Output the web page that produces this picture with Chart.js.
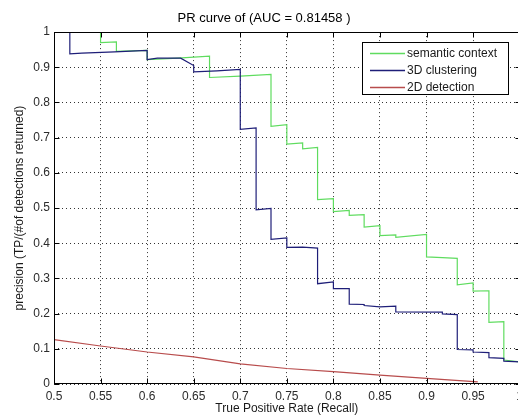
<!DOCTYPE html>
<html>
<head>
<meta charset="utf-8">
<script src="https://cdn.jsdelivr.net/npm/chart.js@4.4.0/dist/chart.umd.min.js"></script>
<style>
html, body { margin: 0; padding: 0; overflow: hidden; background: #fff; }
#wrap { position: absolute; left: 0; top: 0; width: 528px; height: 416px; }
</style>
</head>
<body>
<div id="wrap"><canvas id="pr" width="528" height="416"></canvas></div>
<script>
const xTicks = [0.5, 0.55, 0.6, 0.65, 0.7, 0.75, 0.8, 0.85, 0.9, 0.95, 1];
const yTicks = [0, 0.1, 0.2, 0.3, 0.4, 0.5, 0.6, 0.7, 0.8, 0.9, 1];

const seriesNames = ['semantic context', '3D clustering', '2D detection'];
const seriesColors = ['#5fdc5f', '#1e1e78', '#b84c4c'];

const semanticRecall = [0.55, 0.55, 0.567, 0.567, 0.6, 0.6, 0.633, 0.667, 0.667, 0.7, 0.733, 0.733, 0.75, 0.75,
    0.767, 0.767, 0.783, 0.783, 0.8, 0.8, 0.817, 0.817, 0.833, 0.833, 0.85, 0.85, 0.867, 0.867, 0.9, 0.9,
    0.917, 0.933, 0.933, 0.95, 0.95, 0.967, 0.967, 0.983, 0.983, 1.0];
const semanticPrecision = [1.0, 0.970, 0.972, 0.945, 0.948, 0.922, 0.926, 0.932, 0.871, 0.875, 0.880, 0.732, 0.737, 0.682,
    0.685, 0.668, 0.672, 0.524, 0.527, 0.490, 0.493, 0.479, 0.481, 0.446, 0.450, 0.422, 0.424, 0.417, 0.425, 0.361,
    0.359, 0.357, 0.282, 0.287, 0.264, 0.265, 0.175, 0.177, 0.068, 0.063];

const clusteringRecall = [0.517, 0.517, 0.53, 0.565, 0.6, 0.6, 0.611, 0.636, 0.65, 0.65, 0.675, 0.7, 0.7, 0.717,
    0.717, 0.733, 0.733, 0.75, 0.75, 0.767, 0.783, 0.783, 0.8, 0.8, 0.817, 0.817, 0.833, 0.833, 0.85, 0.867,
    0.867, 0.917, 0.917, 0.933, 0.933, 0.95, 0.95, 0.967, 0.967, 0.983, 0.983, 1.0];
const clusteringPrecision = [1.0, 0.938, 0.940, 0.944, 0.948, 0.922, 0.926, 0.926, 0.905, 0.887, 0.890, 0.894, 0.724, 0.728,
    0.495, 0.499, 0.411, 0.415, 0.388, 0.389, 0.386, 0.285, 0.290, 0.271, 0.271, 0.227, 0.226, 0.223, 0.219, 0.221,
    0.205, 0.204, 0.199, 0.197, 0.098, 0.097, 0.091, 0.089, 0.075, 0.073, 0.065, 0.063];

const detectionRecall = [0.5, 0.55, 0.6, 0.65, 0.7, 0.75, 0.8, 0.85, 0.9, 0.955];
const detectionPrecision = [0.126, 0.108, 0.091, 0.077, 0.057, 0.044, 0.035, 0.025, 0.016, 0.006];

const toPoints = (xs, ys) => xs.map((x, i) => ({x: x, y: ys[i]}));

Chart.defaults.font.family = '"Liberation Sans", Arial, sans-serif';
Chart.defaults.font.size = 12;
Chart.defaults.color = '#2b2b2b';

// MATLAB style box, inward ticks and legend inside the axes
const matlabAxes = {
    id: 'matlabAxes',
    afterDraw(chart) {
        const {ctx, chartArea, scales} = chart;
        const l = Math.round(chartArea.left) + 0.5;
        const r = Math.round(chartArea.right) + 0.5;
        const t = Math.round(chartArea.top) + 0.5;
        const b = Math.round(chartArea.bottom) - 0.5;
        ctx.save();
        ctx.setLineDash([]);
        ctx.strokeStyle = '#000';
        ctx.lineWidth = 1;
        ctx.strokeRect(l, t, r - l, b - t);
        ctx.beginPath();
        xTicks.forEach(v => {
            const px = Math.round(scales.x.getPixelForValue(v)) + 0.5;
            ctx.moveTo(px, b); ctx.lineTo(px, b - 5);
            ctx.moveTo(px, t); ctx.lineTo(px, t + 5);
        });
        yTicks.forEach(v => {
            const py = Math.round(scales.y.getPixelForValue(v)) + 0.5;
            ctx.moveTo(l, py); ctx.lineTo(l + 5, py);
            ctx.moveTo(r, py); ctx.lineTo(r - 5, py);
        });
        ctx.stroke();

        // legend
        const bx = 362.5, by = 42.5, bw = 146, bh = 52;
        ctx.fillStyle = '#fff';
        ctx.fillRect(bx, by, bw, bh);
        ctx.strokeStyle = '#000';
        ctx.strokeRect(bx, by, bw, bh);
        ctx.font = '12px "Liberation Sans", Arial, sans-serif';
        ctx.textBaseline = 'middle';
        seriesNames.forEach((name, i) => {
            const yy = Math.round(by + 10 + i * 17.3) + 0.5;
            ctx.strokeStyle = seriesColors[i];
            ctx.lineWidth = 1.5;
            ctx.beginPath();
            ctx.moveTo(370, yy);
            ctx.lineTo(405, yy);
            ctx.stroke();
            ctx.fillStyle = '#1a1a1a';
            ctx.fillText(name, 407, yy);
        });
        ctx.restore();
    }
};

new Chart(document.getElementById('pr'), {
    type: 'scatter',
    data: {
        datasets: [
            {
                label: seriesNames[0],
                data: toPoints(semanticRecall, semanticPrecision),
                borderColor: seriesColors[0],
                order: 1,
            },
            {
                label: seriesNames[1],
                data: toPoints(clusteringRecall, clusteringPrecision),
                borderColor: seriesColors[1],
                order: 0,
            },
            {
                label: seriesNames[2],
                data: toPoints(detectionRecall, detectionPrecision),
                borderColor: seriesColors[2],
                order: 2,
            },
        ],
    },
    options: {
        responsive: false,
        animation: false,
        devicePixelRatio: 1,
        showLine: true,
        elements: {
            point: {radius: 0, hoverRadius: 0},
            line: {borderWidth: 1.2, tension: 0, fill: false},
        },
        layout: {padding: 0},
        plugins: {
            legend: {display: false},
            tooltip: {enabled: false},
            title: {
                display: true,
                text: 'PR curve of (AUC = 0.81458 )',
                color: '#000',
                font: {size: 13, weight: 'normal'},
                padding: {top: 10.5, bottom: 6},
            },
        },
        scales: {
            x: {
                type: 'linear',
                min: 0.5,
                max: 1,
                afterBuildTicks: s => { s.ticks = xTicks.map(v => ({value: v})); },
                afterFit: s => { s.height = 32; },
                ticks: {padding: 5, callback: v => String(v)},
                grid: {color: '#333', lineWidth: 1, drawTicks: false, tickLength: 0, borderDash: [1, 3]},
                border: {display: false, dash: [1, 3]},
                title: {
                    display: true,
                    text: 'True Positive Rate (Recall)',
                    color: '#1a1a1a',
                    font: {size: 12},
                    padding: {top: 0, bottom: 0},
                },
            },
            y: {
                type: 'linear',
                min: 0,
                max: 1,
                afterBuildTicks: s => { s.ticks = yTicks.map(v => ({value: v})); },
                afterFit: s => { s.width = 54; },
                ticks: {padding: 4, callback: v => String(v)},
                grid: {color: '#333', lineWidth: 1, drawTicks: false, tickLength: 0, borderDash: [1, 3]},
                border: {display: false, dash: [1, 3]},
                title: {
                    display: true,
                    text: 'precision (TP/(#of detections returned)',
                    color: '#1a1a1a',
                    font: {size: 12},
                    padding: {top: 12, bottom: 0},
                },
            },
        },
    },
    plugins: [matlabAxes],
});
</script>
</body>
</html>
